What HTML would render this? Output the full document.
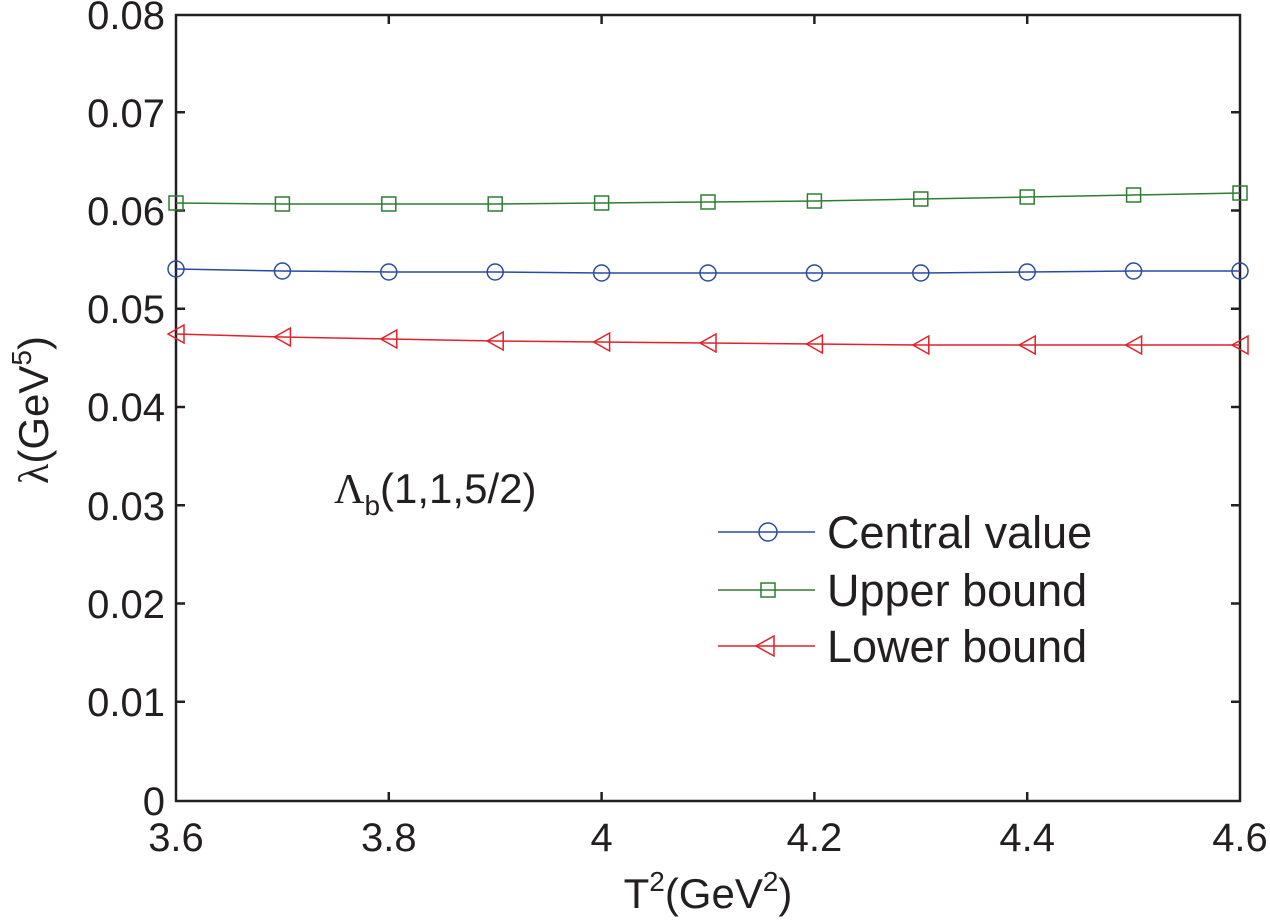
<!DOCTYPE html>
<html><head><meta charset="utf-8"><style>body{margin:0;background:#fff}svg{display:block}</style></head><body>
<svg width="1270" height="922" xmlns="http://www.w3.org/2000/svg" font-family="Liberation Sans, Arial, sans-serif" fill="#231f20">
<rect width="1270" height="922" fill="#fff"/>
<g stroke="#231f20" stroke-width="2.5" fill="none">
<rect x="176" y="15" width="1064" height="786"/>
<path d="M176,112.25h9M176,210.5h9M176,308.75h9M176,407h9M176,505.25h9M176,603.5h9M176,701.75h9
M1240,112.25h-9M1240,210.5h-9M1240,308.75h-9M1240,407h-9M1240,505.25h-9M1240,603.5h-9M1240,701.75h-9
M388.8,801v-9M601.6,801v-9M814.4,801v-9M1027.2,801v-9
M388.8,15v9M601.6,15v9M814.4,15v9M1027.2,15v9"/>
</g>
<g font-size="40" text-anchor="end">
<text x="165" y="29">0.08</text><text x="165" y="127">0.07</text><text x="165" y="225">0.06</text>
<text x="165" y="323">0.05</text><text x="165" y="421">0.04</text><text x="165" y="520">0.03</text>
<text x="165" y="618">0.02</text><text x="165" y="716">0.01</text><text x="165" y="815">0</text>
</g>
<g font-size="40" text-anchor="middle">
<text x="176" y="851">3.6</text><text x="388.8" y="851">3.8</text><text x="601.6" y="851">4</text>
<text x="814.4" y="851">4.2</text><text x="1027.2" y="851">4.4</text><text x="1240" y="851">4.6</text>
<text x="708" y="908" font-size="42">T<tspan font-size="28" dy="-17">2</tspan><tspan dy="17">(GeV</tspan><tspan font-size="28" dy="-17">2</tspan><tspan dy="17">)</tspan></text>
</g>
<text transform="translate(48,410) rotate(-90)" font-size="42" text-anchor="middle"><tspan font-family="Liberation Serif, serif">λ</tspan>(GeV<tspan font-size="28" dy="-17">5</tspan><tspan dy="17">)</tspan></text>
<text x="334" y="503" font-size="42"><tspan font-family="Liberation Serif, serif">Λ</tspan><tspan font-size="28" dy="12">b</tspan><tspan dy="-12">(1,1,5/2)</tspan></text>
<g stroke="#2e7d32" stroke-width="1.5" fill="none">
<polyline points="176,203 282.4,204 388.8,204 495.2,204 601.6,203 708,202 814.4,201 920.8,199 1027.2,197 1133.6,195 1240,193"/>
<g><rect x="169" y="196" width="14" height="14"/><rect x="275.4" y="197" width="14" height="14"/><rect x="381.8" y="197" width="14" height="14"/><rect x="488.2" y="197" width="14" height="14"/><rect x="594.6" y="196" width="14" height="14"/><rect x="701" y="195" width="14" height="14"/><rect x="807.4" y="194" width="14" height="14"/><rect x="913.8" y="192" width="14" height="14"/><rect x="1020.2" y="190" width="14" height="14"/><rect x="1126.6" y="188" width="14" height="14"/><rect x="1233" y="186" width="14" height="14"/></g>
<path d="M718,590h97"/><rect x="761" y="583" width="14" height="14"/>
</g>
<g stroke="#2a4aa0" stroke-width="1.5" fill="none">
<polyline points="176,269 282.4,271 388.8,272 495.2,272 601.6,273 708,273 814.4,273 920.8,273 1027.2,272 1133.6,271 1240,271"/>
<circle cx="176" cy="269" r="8"/><circle cx="282.4" cy="271" r="8"/><circle cx="388.8" cy="272" r="8"/><circle cx="495.2" cy="272" r="8"/><circle cx="601.6" cy="273" r="8"/><circle cx="708" cy="273" r="8"/><circle cx="814.4" cy="273" r="8"/><circle cx="920.8" cy="273" r="8"/><circle cx="1027.2" cy="272" r="8"/><circle cx="1133.6" cy="271" r="8"/><circle cx="1240" cy="271" r="8"/>
<path d="M718,532h97"/><circle cx="768" cy="532" r="9"/>
</g>
<g stroke="#e0222a" stroke-width="1.5" fill="none">
<polyline points="176,334 282.4,337 388.8,339 495.2,341 601.6,342 708,343 814.4,344 920.8,345 1027.2,345 1133.6,345 1240,345"/>
<path d="M168,334l16,-9v18z"/><path d="M274.4,337l16,-9v18z"/><path d="M380.8,339l16,-9v18z"/><path d="M487.2,341l16,-9v18z"/><path d="M593.6,342l16,-9v18z"/><path d="M700,343l16,-9v18z"/><path d="M806.4,344l16,-9v18z"/><path d="M912.8,345l16,-9v18z"/><path d="M1019.2,345l16,-9v18z"/><path d="M1125.6,345l16,-9v18z"/><path d="M1232,345l16,-9v18z"/>
<path d="M718,646h97"/><path d="M756,646l18,-10v20z"/>
</g>
<g font-size="45">
<text x="827" y="548">Central value</text>
<text x="827" y="606">Upper bound</text>
<text x="827" y="662">Lower bound</text>
</g>
</svg>
</body></html>
